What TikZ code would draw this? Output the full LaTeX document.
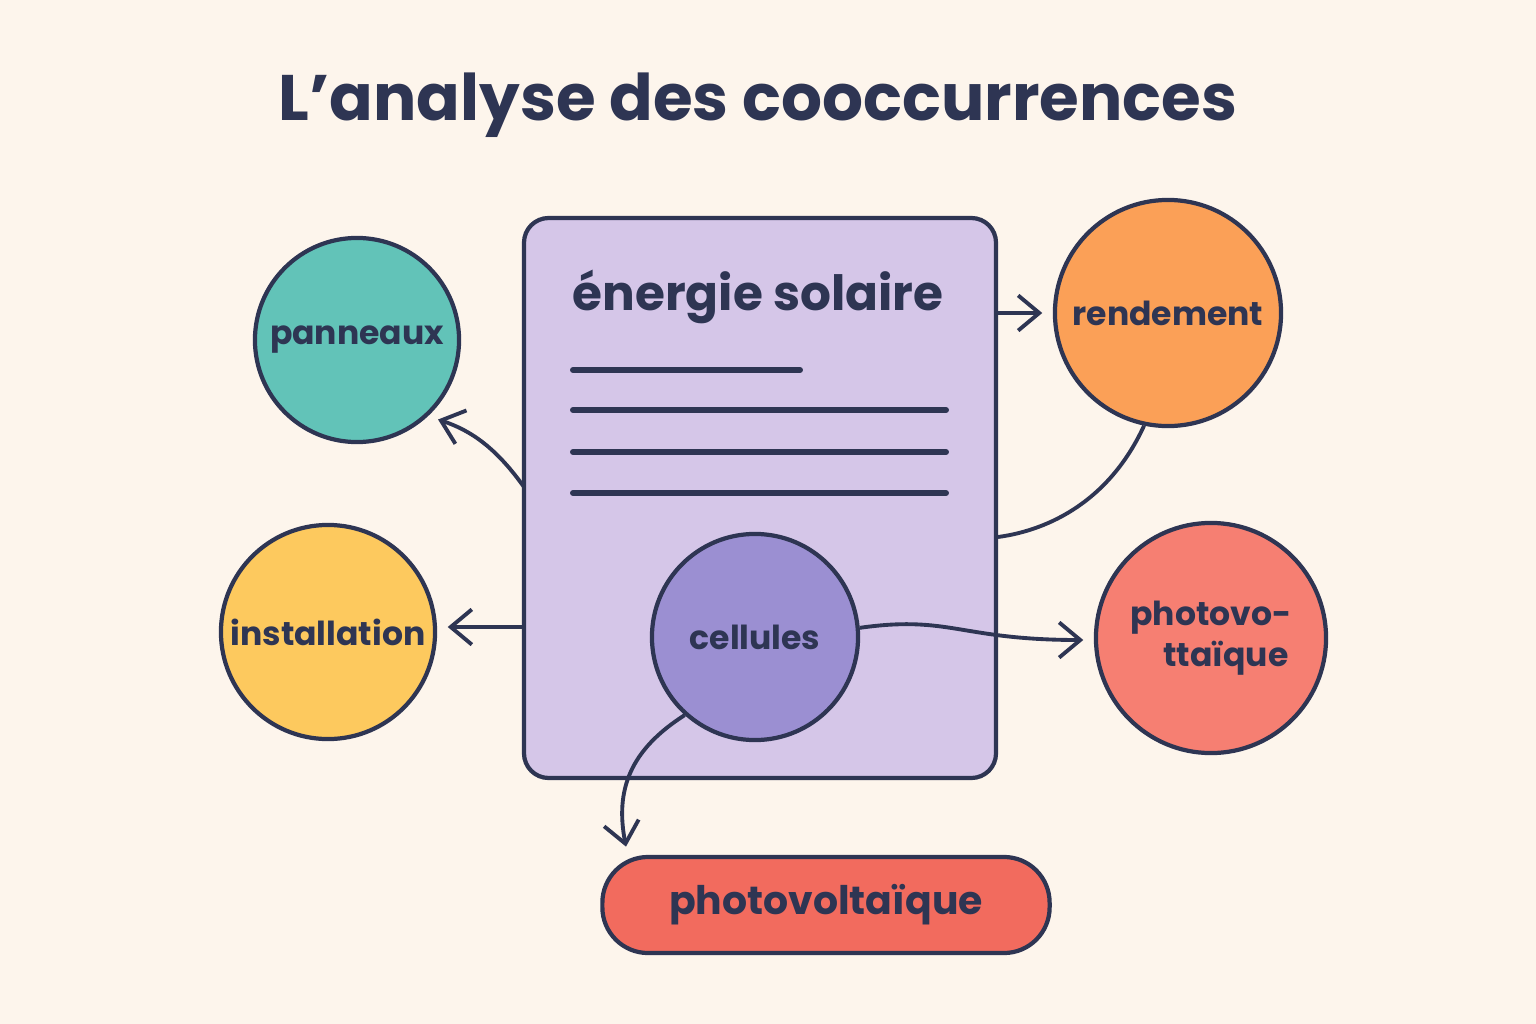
\documentclass[tikz,border=0pt]{standalone}
\usepackage{fontspec}
\setmainfont{Poppins}
\usetikzlibrary{arrows.meta}
\definecolor{ink}{HTML}{2E3553}
\definecolor{paper}{HTML}{FDF5EC}
\definecolor{docfill}{HTML}{D5C6E8}
\definecolor{teal}{HTML}{62C3B8}
\definecolor{sun}{HTML}{FDC95E}
\definecolor{orange}{HTML}{FBA057}
\definecolor{salmon}{HTML}{F67F72}
\definecolor{lilac}{HTML}{9B8FD2}
\definecolor{coral}{HTML}{F26B5E}
\tikzset{
  term/.style={circle, draw=ink, line width=1.2pt, text=ink, font=\bfseries\fontsize{9.4}{11.5}\selectfont, inner sep=0pt, align=center},
  link/.style={draw=ink, line width=1.1pt, shorten >=3pt, -{Straight Barb[length=6pt,width=10pt,line width=1.1pt]}},
  bar/.style={draw=ink, line width=1.7pt, line cap=round},
}
\begin{document}
\begin{tikzpicture}[x=0.01cm,y=-0.01cm]
  \fill[paper] (0,0) rectangle (1536,1024);
  \useasboundingbox (0,0) rectangle (1536,1024);
  \node[text=ink, font=\bfseries\fontsize{18.3}{20}\selectfont] (title) at (758,105) {L’analyse des cooccurrences};
  % document
  \path[draw=ink, line width=1.2pt, fill=docfill, rounded corners=7pt] (524,218) rectangle (996,778);
  \node[text=ink, font=\bfseries\fontsize{13.8}{15}\selectfont] (head) at (758,297) {énergie solaire};
  \draw[bar] (573,370) -- (800,370);
  \foreach \y in {410,452,493}
    \draw[bar] (573,\y) -- (946,\y);
  % terms
  \node[term, fill=teal, minimum size=2.04cm] (pan) at (357,340) {panneaux};
  \node[term, fill=sun, minimum size=2.14cm] (inst) at (328,632) {installation};
  \node[term, fill=orange, minimum size=2.26cm] (rend) at (1168,313) {rendement};
  \node[term, fill=salmon, minimum size=2.3cm, align=left] (photo) at (1211,638) {photovo-\\\hspace*{1em}ttaïque};
  \node[term, fill=lilac, minimum size=2.06cm] (cell) at (755,637) {cellules};
  \node[draw=ink, line width=1.2pt, fill=coral, rounded corners=13pt, minimum width=4.47cm, minimum height=0.96cm, text=ink, font=\bfseries\fontsize{11.2}{13}\selectfont] (pill) at (826,905) {photovoltaïque};
  % connectors
  \coordinate (dl1) at (524,487);
  \coordinate (dl2) at (524,627);
  \coordinate (dr1) at (996,313);
  \coordinate (dr2) at (998,537);
  \coordinate (pin) at (628,857);
  \draw[link] (dl1) to[bend right=18] (pan.-47);
  \draw[link] (dl2) -- (inst.east |- dl2);
  \draw[link] (dr1) -- (rend.west);
  \draw[draw=ink, line width=1.1pt] (rend.-102) .. controls (1110,500) and (1050,530) .. (dr2);
  \draw[link] (cell.5) .. controls (950,615) and (960,640) .. (photo.west |- 0,640);
  \draw[link] (cell.-132) .. controls (630,750) and (615,790) .. (pin);
\end{tikzpicture}
\end{document}
